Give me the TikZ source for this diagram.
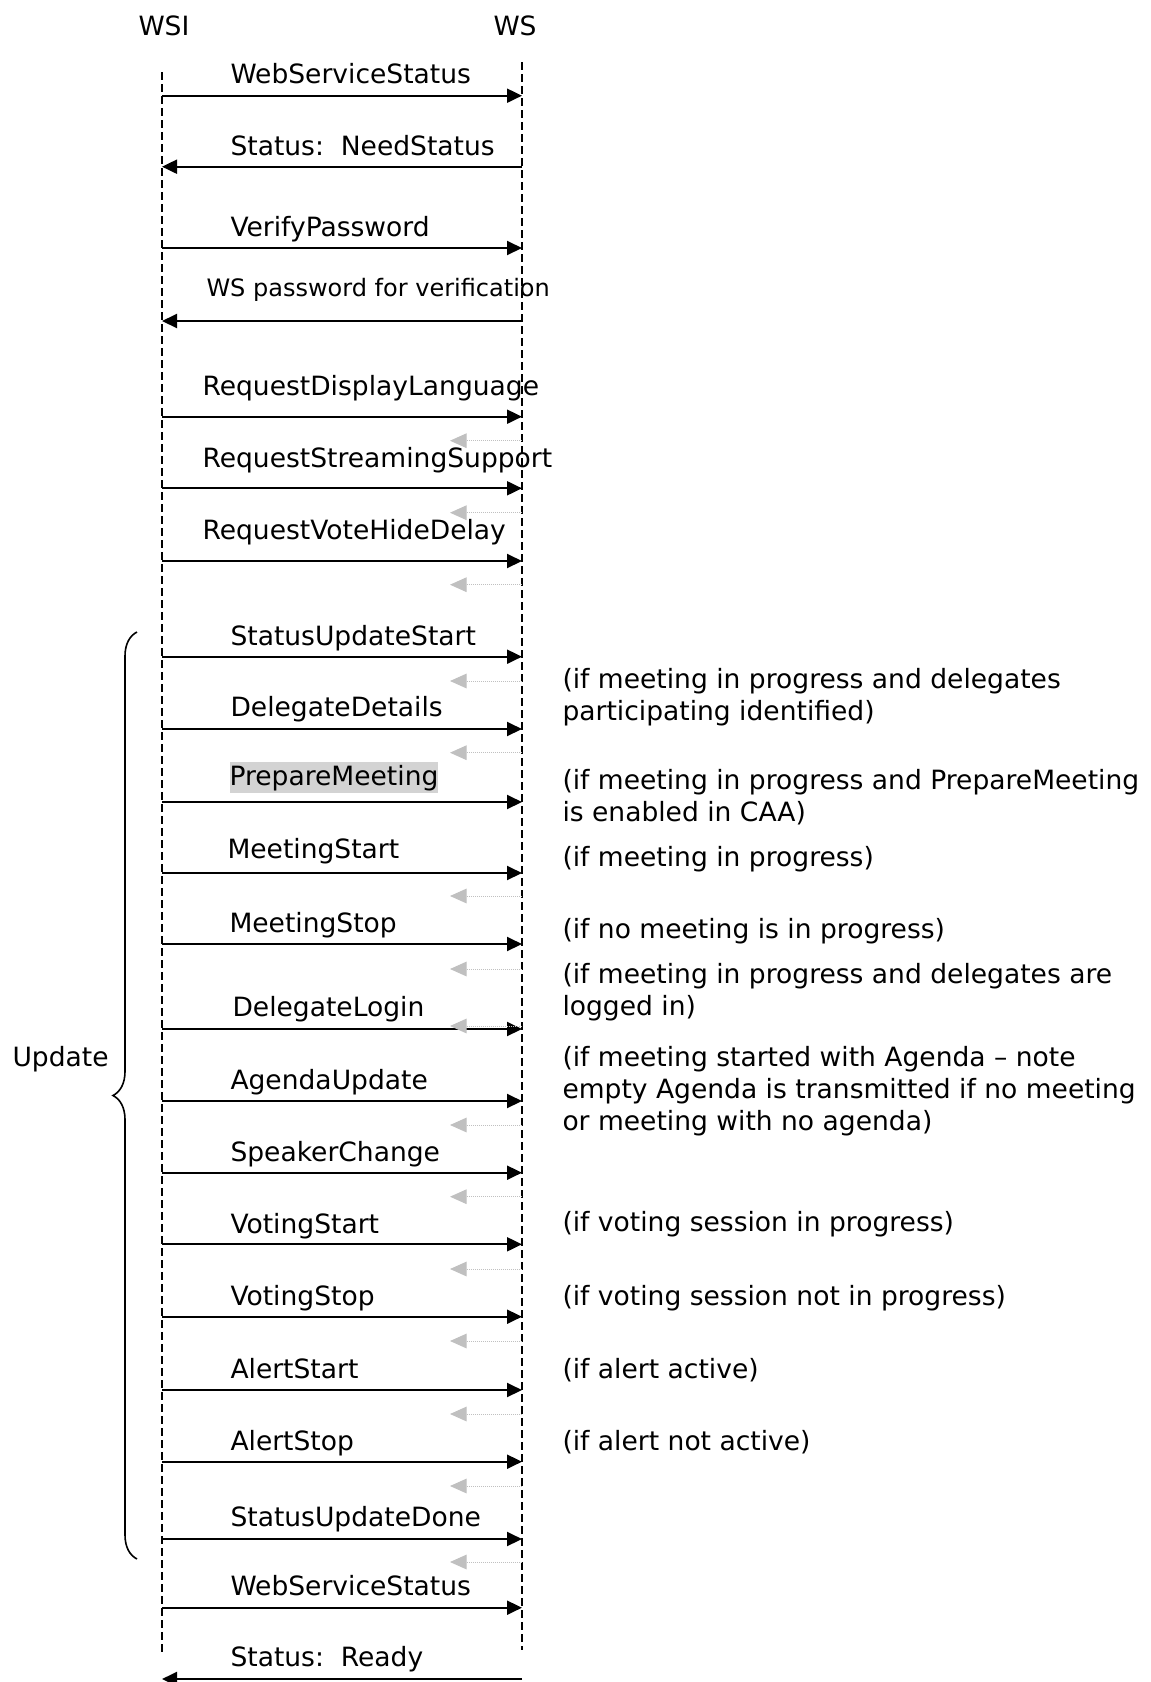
\documentclass[tikz,border=0pt]{standalone}
\usepackage{fontspec}
\setmainfont{DejaVu Sans}
\usetikzlibrary{arrows.meta,decorations.pathreplacing}

\tikzset{every picture/.style={line width=0.75pt}}
\definecolor{retgray}{RGB}{192,192,192}
\definecolor{markgray}{RGB}{211,211,211}

\begin{document}
\begin{tikzpicture}[x=0.75pt,y=0.75pt,yscale=-1,xscale=1,
    lifeline/.style={line width=1.1pt, dash pattern=on 6pt off 3pt},
    msg/.style={line width=1.5pt, -{Triangle[length=11.25pt,width=10.5pt]}},
    ret/.style={color=retgray, line width=0.75pt, dash pattern=on 0.75pt off 0.75pt, -{Triangle[length=12.5pt,width=11pt]}},
    lbl/.style={anchor=base west, inner sep=0pt, font=\fontsize{19.9}{24}\selectfont},
    note/.style={anchor=base west, inner sep=0pt, align=left, font=\fontsize{19.9}{24}\selectfont}]
    \path[use as bounding box] (0,0) rectangle (1150,1682);

    % Lifelines
    \coordinate (wsiTop) at (162,72);
    \coordinate (wsiBot) at (162,1653);
    \coordinate (wsTop) at (522,62);
    \coordinate (wsBot) at (522,1650);
    \draw [lifeline] (wsiTop) -- (wsiBot);
    \draw [lifeline] (wsTop) -- (wsBot);
    % Text Node
    \node [lbl] (hWSI) at (138,35) {WSI};
    % Text Node
    \node [lbl] (hWS) at (493,35) {WS};

    % message points on both lifelines
    \foreach \n/\y in {1/95.7, 2/166.7, 3/248, 4/321, 5/416.7, 6/488.3, 7/561, 8/656.7, 9/729, 10/802, 11/873,
        12/944, 13/1029, 14/1101, 15/1172.7, 16/1244.3, 17/1316.7, 18/1390, 19/1461.7, 20/1539, 21/1607.7, 22/1679}{
        \coordinate (wsi\n) at (162,\y);
        \coordinate (ws\n) at (522,\y);
    }

    %Straight Lines (calls)
    \foreach \n in {1,3,5,6,7,8,9,10,11,12,13,14,15,16,17,18,19,20,21}{
        \draw [msg] (wsi\n) -- (ws\n);
    }
    %Straight Lines (answers)
    \draw [msg] (ws2) -- (wsi2);
    \draw [msg] (ws4) -- (wsi4);
    \draw [msg] (ws22) -- (wsi22);

    %Dotted returns
    \foreach \n/\y in {1/440.7, 2/512.7, 3/584.7, 4/681, 5/752.7, 6/896, 7/969, 8/1026, 9/1125, 10/1196.7,
        11/1269, 12/1341, 13/1414, 14/1486, 15/1562}{
        \coordinate (rs\n) at (522,\y);
        \coordinate (re\n) at (450,\y);
        \draw [ret] (rs\n) -- (re\n);
    }

    % Text Node
    \node [lbl] (mWebStatusA) at (230,83) {WebServiceStatus};
    % Text Node
    \node [lbl] (mNeedStatus) at (230,155.7) {Status:~~NeedStatus};
    % Text Node
    \node [lbl] (mVerify) at (230,236.7) {VerifyPassword};
    % Text Node
    \node [lbl, font=\fontsize{18}{22}\selectfont] (mPassword) at (206,296.7) {WS password for verification};
    % Text Node
    \node [lbl] (mLanguage) at (202,395) {RequestDisplayLanguage};
    % Text Node
    \node [lbl] (mStreaming) at (202,467) {RequestStreamingSupport};
    % Text Node
    \node [lbl] (mHideDelay) at (202,539) {RequestVoteHideDelay};
    % Text Node
    \node [lbl] (mUpdStart) at (230,645) {StatusUpdateStart};
    % Text Node
    \node [lbl] (mDelDetails) at (230,716) {DelegateDetails};
    % Text Node
    \node [lbl, fill=markgray, inner ysep=2pt] (mPrepare) at (229,785) {PrepareMeeting};
    % Text Node
    \node [lbl] (mMeetStart) at (227,858) {MeetingStart};
    % Text Node
    \node [lbl] (mMeetStop) at (229,932.7) {MeetingStop};
    % Text Node
    \node [lbl] (mDelLogin) at (232,1016) {DelegateLogin};
    % Text Node
    \node [lbl] (mAgenda) at (230,1089) {AgendaUpdate};
    % Text Node
    \node [lbl] (mSpeaker) at (230,1161) {SpeakerChange};
    % Text Node
    \node [lbl] (mVoteStart) at (230,1233) {VotingStart};
    % Text Node
    \node [lbl] (mVoteStop) at (230,1305) {VotingStop};
    % Text Node
    \node [lbl] (mAlertStart) at (230,1378) {AlertStart};
    % Text Node
    \node [lbl] (mAlertStop) at (230,1450) {AlertStop};
    % Text Node
    \node [lbl] (mUpdDone) at (230,1526) {StatusUpdateDone};
    % Text Node
    \node [lbl] (mWebStatusB) at (230,1595) {WebServiceStatus};
    % Text Node
    \node [lbl] (mReady) at (230,1666.7) {Status:~~Ready};

    % Notes (anchored on the baseline of their last line)
    \node [note] (nDetails) at (562,720) {(if meeting in progress and delegates\\participating identified)};
    \node [note] (nPrepare) at (562,821.7) {(if meeting in progress and PrepareMeeting\\is enabled in CAA)};
    \node [note] (nMeetStart) at (562,866.7) {(if meeting in progress)};
    \node [note] (nMeetStop) at (562,938) {(if no meeting is in progress)};
    \node [note] (nLogin) at (562,1015) {(if meeting in progress and delegates are\\logged in)};
    \node [note] (nAgenda) at (562,1130) {(if meeting started with Agenda – note\\empty Agenda is transmitted if no meeting\\or meeting with no agenda)};
    \node [note] (nVoteStart) at (562,1231.7) {(if voting session in progress)};
    \node [note] (nVoteStop) at (562,1305) {(if voting session not in progress)};
    \node [note] (nAlertStart) at (562,1378) {(if alert active)};
    \node [note] (nAlertStop) at (562,1450) {(if alert not active)};

    % Brace
    \coordinate (brBot) at (137,1559);
    \coordinate (brTop) at (137,632);
    \draw [line width=1.2pt, decorate, decoration={brace, amplitude=18pt}] (brBot) -- (brTop);
    % Text Node
    \node [lbl] (gUpdate) at (12,1066) {Update};

\end{tikzpicture}
\end{document}
